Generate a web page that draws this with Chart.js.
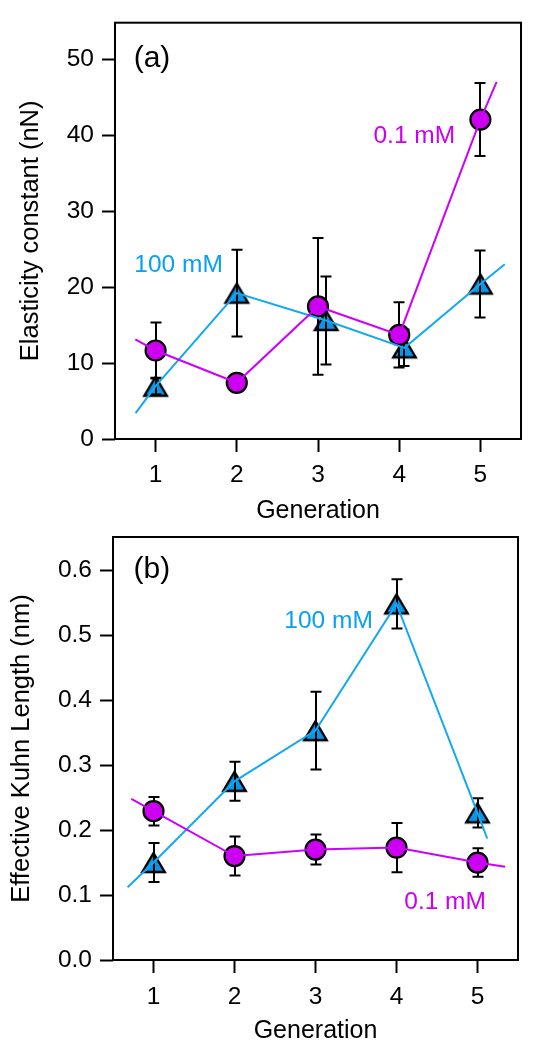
<!DOCTYPE html>
<html>
<head>
<meta charset="utf-8">
<script src="https://cdn.jsdelivr.net/npm/chart.js@4.4.1/dist/chart.umd.min.js"></script>
<style>
  html, body { margin: 0; padding: 0; background: #fff; overflow: hidden; }
  #wrap { position: relative; width: 542px; height: 1042px; }
  .panel { position: absolute; left: 0; width: 542px; height: 540px; }
</style>
</head>
<body>
<div id="wrap">
  <div class="panel" style="top:0"><canvas id="chartA" width="542" height="540"></canvas></div>
  <div class="panel" style="top:502px"><canvas id="chartB" width="542" height="540"></canvas></div>
</div>
<script>
// ---- data ----
const xTicks = [1, 2, 3, 4, 5];
const yTicksA = [0, 10, 20, 30, 40, 50];
const yTicksB = [0, 0.1, 0.2, 0.3, 0.4, 0.5, 0.6];

// (a) elasticity constant (nN)
const elastic100X = [1, 2, 3.1, 4.065, 5];
const elastic100 = [6.95, 19.2, 15.6, 12.0, 20.4];
const elastic100Err = [1.1, 5.7, 5.8, 2.4, 4.4];
const elastic01X = [1, 2, 3, 4, 5];
const elastic01 = [11.65, 7.4, 17.45, 13.7, 42.05];
const elastic01Err = [3.7, 1.0, 9.0, 4.3, 4.8];
// where the connecting lines start / stop
const elastic100Ends = [[0.754, 3.4], [5.30, 23.0]];
const elastic01Ends = [[0.75, 13.1], [5.20, 47.0]];

// (b) effective Kuhn length (nm)
const kuhn100X = [1, 2, 3, 4, 5];
const kuhn100 = [0.150, 0.275, 0.353, 0.548, 0.2265];
const kuhn100Err = [0.030, 0.030, 0.060, 0.038, 0.0225];
const kuhn01X = [1, 2, 3, 4, 5];
const kuhn01 = [0.229, 0.160, 0.170, 0.173, 0.150];
const kuhn01Err = [0.022, 0.030, 0.023, 0.038, 0.022];
const kuhn100Ends = [[0.68, 0.112], [5.12, 0.187]];
const kuhn01Ends = [[0.726, 0.248], [5.34, 0.1436]];

// ---- styles ----
const FONT = "'Liberation Sans', Arial, Helvetica, sans-serif";
const BLUE_FILL = '#0a96e4';
const BLUE_LINE = '#14a8f2';
const BLUE_TEXT = '#0aa0f0';
const MAG_FILL = '#cc00ee';
const MAG_LINE = '#cc00ff';
const MAG_TEXT = '#cc00ee';

// triangle marker centred on its bounding box (like the original software)
function triangleImage() {
  const w = 22.5, h = 19, pad = 5;
  const c = document.createElement('canvas');
  c.width = Math.ceil(w + pad * 2);
  c.height = Math.ceil(h + pad * 2);
  const g = c.getContext('2d');
  const top = (c.height - h) / 2;
  g.beginPath();
  g.moveTo(c.width / 2, top);
  g.lineTo(c.width / 2 + w / 2, top + h);
  g.lineTo(c.width / 2 - w / 2, top + h);
  g.closePath();
  g.fillStyle = BLUE_FILL;
  g.fill();
  g.lineWidth = 2.4;
  g.strokeStyle = '#000';
  g.stroke();
  return c;
}
const triImg = triangleImage();

function pts(xs, ys) {
  return xs.map((x, i) => ({ x: x, y: ys[i] }));
}
function linePts(xs, ys, ends) {
  return [{ x: ends[0][0], y: ends[0][1] }].concat(pts(xs, ys), [{ x: ends[1][0], y: ends[1][1] }]);
}

// error bars, drawn under or over their own markers
function drawErrors(chart, ds) {
  const ctx = chart.ctx;
  const xs = chart.scales.x, ys = chart.scales.y;
  ctx.save();
  ctx.strokeStyle = '#000';
  ctx.lineWidth = 2;
  ds.data.forEach((p, i) => {
    const e = ds.errors[i];
    const px = Math.round(xs.getPixelForValue(p.x));
    const t = ys.getPixelForValue(p.y + e);
    const b = ys.getPixelForValue(p.y - e);
    ctx.beginPath();
    ctx.moveTo(px, t); ctx.lineTo(px, b);
    ctx.moveTo(px - 5.5, t); ctx.lineTo(px + 5.5, t);
    ctx.moveTo(px - 5.5, b); ctx.lineTo(px + 5.5, b);
    ctx.stroke();
  });
  ctx.restore();
}
const errorBars = {
  id: 'errorBars',
  beforeDatasetDraw(chart, args) {
    const ds = chart.data.datasets[args.index];
    if (ds.errors && ds.errorsOver === false) drawErrors(chart, ds);
  },
  afterDatasetDraw(chart, args) {
    const ds = chart.data.datasets[args.index];
    if (ds.errors && ds.errorsOver === true) drawErrors(chart, ds);
  }
};

// box frame and the in-plot text labels
const frameAndText = {
  id: 'frameAndText',
  afterDraw(chart, args, opts) {
    const ctx = chart.ctx, a = chart.chartArea;
    const xs = chart.scales.x, ys = chart.scales.y;
    ctx.save();
    ctx.strokeStyle = '#000';
    ctx.lineWidth = 2;
    ctx.strokeRect(a.left, a.top, a.right - a.left, a.bottom - a.top);
    ctx.textBaseline = 'middle';
    opts.labels.forEach(l => {
      ctx.font = l.size + 'px ' + FONT;
      ctx.fillStyle = l.color;
      ctx.textAlign = l.align || 'center';
      ctx.fillText(l.text, xs.getPixelForValue(l.x), ys.getPixelForValue(l.y));
    });
    ctx.restore();
  }
};

function makePanel(id, p) {
  new Chart(document.getElementById(id), {
    type: 'scatter',
    data: {
      datasets: [
        { data: pts(p.bx, p.by), errors: p.be, errorsOver: true, pointStyle: triImg,
          pointRadius: 12, showLine: false, order: 6 },
        { data: pts(p.mx, p.my), errors: p.me, errorsOver: false, pointStyle: 'circle',
          pointRadius: 10, pointBorderWidth: 2.2, pointBackgroundColor: MAG_FILL,
          pointBorderColor: '#000', showLine: false, order: 5 },
        { data: linePts(p.bx, p.by, p.bEnds), showLine: true, borderColor: BLUE_LINE,
          borderWidth: 2, pointRadius: 0, order: 2 },
        { data: linePts(p.mx, p.my, p.mEnds), showLine: true, borderColor: MAG_LINE,
          borderWidth: 2, pointRadius: 0, order: 1 }
      ]
    },
    options: {
      responsive: false,
      animation: false,
      events: [],
      layout: { padding: { left: 0, top: p.padTop, right: p.padRight, bottom: 0 } },
      plugins: {
        legend: { display: false },
        tooltip: { enabled: false },
        frameAndText: { labels: p.labels }
      },
      scales: {
        x: {
          type: 'linear', min: 0.5, max: 5.5,
          afterBuildTicks: s => { s.ticks = xTicks.map(v => ({ value: v })); },
          afterFit: s => { s.height = p.xHeight; },
          grid: { drawOnChartArea: false, drawTicks: true, tickLength: 13, tickWidth: 2, tickColor: '#000' },
          border: { display: false },
          ticks: { color: '#000', padding: p.xTickPad, font: { family: FONT, size: 24.5 } },
          title: { display: true, text: 'Generation', color: '#000',
            padding: { top: 0, bottom: p.xTitlePad },
            font: { family: FONT, size: 25, lineHeight: 0.8 } }
        },
        y: {
          type: 'linear', min: 0, max: p.yMax,
          afterBuildTicks: s => { s.ticks = p.yTicks.map(v => ({ value: v })); },
          afterFit: s => { s.width = p.yWidth; },
          grid: { drawOnChartArea: false, drawTicks: true, tickLength: 13, tickWidth: 2, tickColor: '#000' },
          border: { display: false },
          ticks: { color: '#000', padding: 8, font: { family: FONT, size: 24.5 },
            callback: v => p.decimals ? v.toFixed(p.decimals) : String(v) },
          title: { display: true, text: p.yTitle, color: '#000',
            padding: { top: p.yTitlePad, bottom: 0 },
            font: { family: FONT, size: 25.5, lineHeight: 0.8 } }
        }
      }
    },
    plugins: [errorBars, frameAndText]
  });
}

makePanel('chartA', {
  bx: elastic100X, by: elastic100, be: elastic100Err, bEnds: elastic100Ends,
  mx: elastic01X, my: elastic01, me: elastic01Err, mEnds: elastic01Ends,
  yMax: 54.8, yTicks: yTicksA, decimals: 0,
  yTitle: 'Elasticity constant (nN)',
  padTop: 16, padRight: 21, yWidth: 115, xHeight: 101,
  xTickPad: 8.6, xTitlePad: 18.5, yTitlePad: 21,
  labels: [
    { text: '(a)', x: 0.73, y: 50, size: 30, color: '#000', align: 'left' },
    { text: '100 mM', x: 1.283, y: 22.9, size: 24.5, color: BLUE_TEXT },
    { text: '0.1 mM', x: 4.186, y: 39.8, size: 24.5, color: MAG_TEXT }
  ]
});

makePanel('chartB', {
  bx: kuhn100X, by: kuhn100, be: kuhn100Err, bEnds: kuhn100Ends,
  mx: kuhn01X, my: kuhn01, me: kuhn01Err, mEnds: kuhn01Ends,
  yMax: 0.651, yTicks: yTicksB, decimals: 1,
  yTitle: 'Effective Kuhn Length (nm)',
  padTop: 35, padRight: 24, yWidth: 113, xHeight: 82,
  xTickPad: 10, xTitlePad: 1.2, yTitlePad: 11.5,
  labels: [
    { text: '(b)', x: 0.754, y: 0.6, size: 30, color: '#000', align: 'left' },
    { text: '100 mM', x: 3.162, y: 0.5215, size: 24.5, color: BLUE_TEXT },
    { text: '0.1 mM', x: 4.6, y: 0.089, size: 24.5, color: MAG_TEXT }
  ]
});
</script>
</body>
</html>
